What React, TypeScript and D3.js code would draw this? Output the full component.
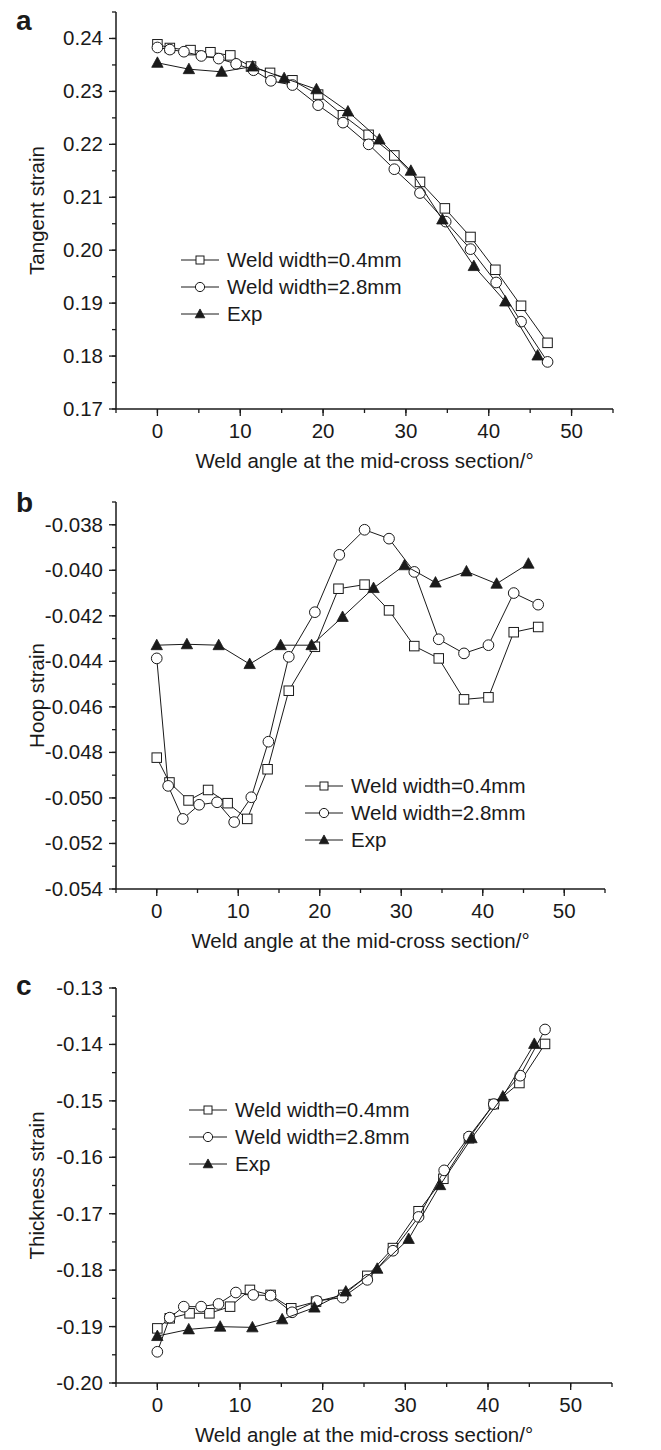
import React from "react";
import * as d3 from "d3";

// ---------- Panel a: Tangent strain ----------
const aSqX = [0, 1.5, 4.0, 6.4, 8.8, 11.3, 13.6, 16.3, 19.4, 22.4, 25.5, 28.6, 31.7, 34.7, 37.8, 40.8, 43.9, 47.1];
const aSqY = [0.2389, 0.2382, 0.2378, 0.2374, 0.2368, 0.2347, 0.2335, 0.2321, 0.2294, 0.2255, 0.2218, 0.2179, 0.2129, 0.2079, 0.2025, 0.1963, 0.1895, 0.1825];
const aCiX = [0, 1.5, 3.2, 5.3, 7.4, 9.5, 11.6, 13.7, 16.3, 19.4, 22.4, 25.5, 28.6, 31.7, 34.8, 37.8, 40.9, 43.9, 47.1];
const aCiY = [0.2383, 0.2379, 0.2375, 0.2367, 0.2362, 0.2352, 0.234, 0.232, 0.2312, 0.2274, 0.2241, 0.22, 0.2153, 0.2108, 0.2054, 0.2002, 0.1939, 0.1865, 0.1789];
const aExX = [0, 3.8, 7.75, 11.5, 15.3, 19.2, 23.0, 26.8, 30.6, 34.4, 38.2, 42.0, 45.9];
const aExY = [0.2354, 0.2342, 0.2337, 0.2347, 0.2325, 0.2304, 0.2262, 0.2209, 0.215, 0.2058, 0.197, 0.1903, 0.1801];

// ---------- Panel b: Hoop strain ----------
const bSqX = [0, 1.56, 3.9, 6.3, 8.7, 11.1, 13.6, 16.2, 19.4, 22.3, 25.5, 28.5, 31.6, 34.6, 37.7, 40.7, 43.8, 46.8];
const bSqY = [-0.04823, -0.04932, -0.05011, -0.04965, -0.05023, -0.05092, -0.04874, -0.04529, -0.04336, -0.04081, -0.04063, -0.04176, -0.04333, -0.04387, -0.04567, -0.04558, -0.04272, -0.04249];
const bCiX = [0, 1.4, 3.2, 5.2, 7.4, 9.5, 11.6, 13.7, 16.2, 19.4, 22.4, 25.5, 28.5, 31.6, 34.6, 37.7, 40.7, 43.8, 46.8];
const bCiY = [-0.04387, -0.04947, -0.05092, -0.0503, -0.05019, -0.05106, -0.04997, -0.04753, -0.0438, -0.04184, -0.03932, -0.03822, -0.03861, -0.04007, -0.04303, -0.04365, -0.04329, -0.041, -0.04151];
const bExX = [0, 3.7, 7.6, 11.4, 15.2, 19.0, 22.8, 26.6, 30.4, 34.2, 38.0, 41.7, 45.6];
const bExY = [-0.04329, -0.04325, -0.04329, -0.04412, -0.04329, -0.04329, -0.04205, -0.04078, -0.03978, -0.04054, -0.04005, -0.04059, -0.03971];

// ---------- Panel c: Thickness strain ----------
const cSqX = [0, 1.5, 3.9, 6.3, 8.8, 11.2, 13.7, 16.2, 19.2, 22.5, 25.4, 28.5, 31.6, 34.6, 37.7, 40.7, 43.8, 46.9];
const cSqY = [-0.19032, -0.18854, -0.18765, -0.18765, -0.18647, -0.1835, -0.18439, -0.18676, -0.18558, -0.18439, -0.18101, -0.17609, -0.16956, -0.16381, -0.15663, -0.15058, -0.14684, -0.13991];
const cCiX = [0, 1.5, 3.2, 5.3, 7.4, 9.5, 11.6, 13.7, 16.3, 19.3, 22.4, 25.4, 28.5, 31.6, 34.7, 37.7, 40.7, 43.9, 46.9];
const cCiY = [-0.19447, -0.18842, -0.18647, -0.18647, -0.18599, -0.18397, -0.18439, -0.18451, -0.18747, -0.18546, -0.18486, -0.18172, -0.17656, -0.17057, -0.16232, -0.15633, -0.15058, -0.14554, -0.13735];
const cExX = [0, 3.8, 7.6, 11.5, 15.1, 19.0, 22.8, 26.6, 30.4, 34.2, 38.0, 41.8, 45.6];
const cExY = [-0.19168, -0.1905, -0.19002, -0.19014, -0.18872, -0.18664, -0.1838, -0.17976, -0.17448, -0.16494, -0.15663, -0.14922, -0.13991];

const xTicks = [0, 10, 20, 30, 40, 50];
const seriesNames = ["Weld width=0.4mm", "Weld width=2.8mm", "Exp"];
const xTitle = "Weld angle at the mid-cross section/°";

const FONT = "'Liberation Sans', Arial, sans-serif";
const INK = "#1a1a1a";
const FS = 20.5;

type Panel = {
  letter: string;
  letterY: number;
  top: number;
  bottom: number;
  x0: number;
  x1: number;
  yDomain: [number, number];
  major: number;
  minor: number;
  digits: number;
  yTitle: string;
  legendX: number;
  legendY: number;
  series: { x: number[]; y: number[]; shape: string }[];
};

const panels: Panel[] = [
  {
    letter: "a", letterY: 30, top: 12, bottom: 409, x0: 116, x1: 613,
    yDomain: [0.17, 0.245], major: 0.01, minor: 0.005, digits: 2, yTitle: "Tangent strain",
    legendX: 181, legendY: 260,
    series: [
      { x: aSqX, y: aSqY, shape: "square" },
      { x: aCiX, y: aCiY, shape: "circle" },
      { x: aExX, y: aExY, shape: "triangle" },
    ],
  },
  {
    letter: "b", letterY: 512, top: 502, bottom: 889, x0: 116, x1: 605,
    yDomain: [-0.054, -0.037], major: 0.002, minor: 0.001, digits: 3, yTitle: "Hoop strain",
    legendX: 305, legendY: 786,
    series: [
      { x: bSqX, y: bSqY, shape: "square" },
      { x: bCiX, y: bCiY, shape: "circle" },
      { x: bExX, y: bExY, shape: "triangle" },
    ],
  },
  {
    letter: "c", letterY: 995, top: 988, bottom: 1383, x0: 116, x1: 612,
    yDomain: [-0.2, -0.13], major: 0.01, minor: 0.005, digits: 2, yTitle: "Thickness strain",
    legendX: 189, legendY: 1110,
    series: [
      { x: cSqX, y: cSqY, shape: "square" },
      { x: cCiX, y: cCiY, shape: "circle" },
      { x: cExX, y: cExY, shape: "triangle" },
    ],
  },
];

function Marker({ shape, cx, cy, s }: { shape: string; cx: number; cy: number; s: number }) {
  if (shape === "square") {
    return <rect x={cx - s / 2} y={cy - s / 2} width={s} height={s} fill="#fff" stroke={INK} strokeWidth={1} />;
  }
  if (shape === "circle") {
    return <circle cx={cx} cy={cy} r={s / 2 + 0.6} fill="#fff" stroke={INK} strokeWidth={1} />;
  }
  const h = s * 1.05;
  const w = s * 1.2;
  return (
    <path
      d={`M${cx},${cy - h * 0.6}L${cx + w / 2},${cy + h * 0.45}L${cx - w / 2},${cy + h * 0.45}Z`}
      fill={INK}
      stroke={INK}
      strokeWidth={0.8}
    />
  );
}

function PanelView({ p }: { p: Panel }) {
  const x = d3.scaleLinear().domain([-5, 55]).range([p.x0, p.x1]);
  const y = d3.scaleLinear().domain(p.yDomain).range([p.bottom, p.top]);
  const fmt = d3.format(`.${p.digits}f`);
  const nMinor = Math.round((p.yDomain[1] - p.yDomain[0]) / p.minor);
  const yMinorTicks = d3.range(nMinor + 1).map((i) => p.yDomain[0] + i * p.minor);
  const nMajor = Math.floor((p.yDomain[1] - p.yDomain[0]) / p.major + 1e-6);
  const yMajorTicks = d3.range(nMajor + 1).map((i) => p.yDomain[0] + i * p.major);
  const xMinorTicks = d3.range(-5, 56, 5);
  const line = d3.line<[number, number]>().x((d) => x(d[0])).y((d) => y(d[1]));
  const midY = (p.top + p.bottom) / 2;
  const midX = (p.x0 + p.x1) / 2;

  return (
    <g>
      <text x={16} y={p.letterY} fontFamily={FONT} fontWeight="bold" fontSize={28} fill={INK}>
        {p.letter}
      </text>
      {/* axes */}
      <line x1={p.x0} x2={p.x0} y1={p.top} y2={p.bottom} stroke={INK} strokeWidth={1.5} />
      <line x1={p.x0} x2={p.x1} y1={p.bottom} y2={p.bottom} stroke={INK} strokeWidth={1.5} />
      {yMinorTicks.map((t, i) => (
        <line key={"ym" + i} x1={p.x0 - 4} x2={p.x0} y1={y(t)} y2={y(t)} stroke={INK} strokeWidth={1.3} />
      ))}
      {yMajorTicks.map((t, i) => (
        <g key={"yM" + i}>
          <line x1={p.x0 - 7} x2={p.x0} y1={y(t)} y2={y(t)} stroke={INK} strokeWidth={1.3} />
          <text
            x={p.x0 - 13}
            y={y(t) + 7}
            textAnchor="end"
            fontFamily={FONT}
            fontSize={FS}
            fill={INK}
          >
            {fmt(t).replace("\u2212", "-")}
          </text>
        </g>
      ))}
      {xMinorTicks.map((t, i) => (
        <line key={"xm" + i} x1={x(t)} x2={x(t)} y1={p.bottom} y2={p.bottom + 4} stroke={INK} strokeWidth={1.3} />
      ))}
      {xTicks.map((t, i) => (
        <g key={"xM" + i}>
          <line x1={x(t)} x2={x(t)} y1={p.bottom} y2={p.bottom + 7} stroke={INK} strokeWidth={1.3} />
          <text x={x(t)} y={p.bottom + 29} textAnchor="middle" fontFamily={FONT} fontSize={FS} fill={INK}>
            {t}
          </text>
        </g>
      ))}
      <text x={midX} y={p.bottom + 59} textAnchor="middle" fontFamily={FONT} fontSize={FS} fill={INK}>
        {xTitle}
      </text>
      <text
        transform={`translate(44,${midY}) rotate(-90)`}
        textAnchor="middle"
        fontFamily={FONT}
        fontSize={FS}
        fill={INK}
      >
        {p.yTitle}
      </text>
      {/* series */}
      {p.series.map((s, si) => {
        const pts = s.x.map((v, i) => [v, s.y[i]] as [number, number]);
        return (
          <g key={"s" + si}>
            <path d={line(pts) || ""} fill="none" stroke={INK} strokeWidth={1} />
            {pts.map((d, i) => (
              <Marker key={i} shape={s.shape} cx={x(d[0])} cy={y(d[1])} s={9.5} />
            ))}
          </g>
        );
      })}
      {/* legend */}
      {p.series.map((s, si) => {
        const ly = p.legendY + si * 27;
        return (
          <g key={"l" + si}>
            <line x1={p.legendX} x2={p.legendX + 38} y1={ly} y2={ly} stroke={INK} strokeWidth={1} />
            <Marker shape={s.shape} cx={p.legendX + 19} cy={ly} s={8} />
            <text x={p.legendX + 46} y={ly + 7} fontFamily={FONT} fontSize={FS} fill={INK}>
              {seriesNames[si]}
            </text>
          </g>
        );
      })}
    </g>
  );
}

export default function App() {
  return (
    <svg
      width={661}
      height={1450}
      style={{ position: "absolute", left: 0, top: 0, background: "#fff" }}
      xmlns="http://www.w3.org/2000/svg"
    >
      <rect x={0} y={0} width={661} height={1450} fill="#fff" />
      {panels.map((p) => (
        <PanelView key={p.letter} p={p} />
      ))}
    </svg>
  );
}
